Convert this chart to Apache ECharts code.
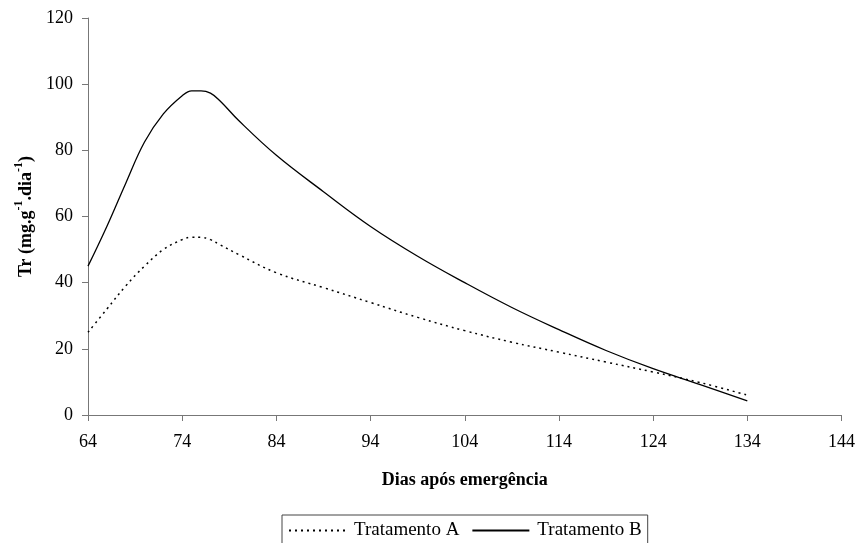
<!DOCTYPE html>
<html>
<head>
<meta charset="utf-8">
<script src="https://cdn.jsdelivr.net/npm/echarts@6/dist/echarts.min.js"></script>
<style>
  html, body { margin: 0; padding: 0; background: #fff; }
  #chart { width: 858px; height: 543px; }
</style>
</head>
<body>
<div id="chart"></div>
<script>
  // dias após emergência
  var dias = [64, 66, 68, 70, 72, 74, 75, 76, 77, 78, 80, 84, 89, 94, 99, 104, 109, 114, 119, 124, 129, 134];
  var tratamentoA = [25, 32, 39, 45, 50, 53, 53.7, 53.7, 53, 51.5, 48.5, 43, 38.5, 34, 29.5, 25.5, 22, 19, 16, 13, 9.8, 6];
  var tratamentoB = [45, 57, 70, 82.5, 91, 96.5, 98, 98, 97.3, 95, 89, 78.5, 67.5, 57, 48, 40, 32.5, 25.8, 19.5, 14, 9.2, 4.3];
  var serieNames = ['Tratamento A', 'Tratamento B'];

  function pares(xs, ys) {
    return xs.map(function (x, i) { return [x, ys[i]]; });
  }

  var font = 'Liberation Serif';
  var chart = echarts.init(document.getElementById('chart'));

  var option = {
    animation: false,
    grid: { left: 88, right: 15, top: 18, bottom: 128 },
    legend: {
      data: serieNames,
      top: 515,
      left: 282,
      borderColor: '#444',
      borderWidth: 1,
      borderRadius: 0,
      padding: [6, 6, 6, 6],
      itemGap: 12,
      itemWidth: 57,
      itemHeight: 10,
      itemStyle: { opacity: 0 },
      textStyle: { fontFamily: font, fontSize: 19, color: '#000', padding: [0, 0, 0, 3] }
    },
    xAxis: {
      type: 'value',
      min: 64,
      max: 144,
      interval: 10,
      name: 'Dias após emergência',
      nameLocation: 'middle',
      nameGap: 56,
      nameTextStyle: { fontFamily: font, fontSize: 18, fontWeight: 'bold', color: '#000' },
      axisLine: { lineStyle: { color: '#777', width: 1 } },
      axisTick: { length: 6, lineStyle: { color: '#777' } },
      axisLabel: { fontFamily: font, fontSize: 18, color: '#000', margin: 18 },
      splitLine: { show: false }
    },
    yAxis: {
      type: 'value',
      min: 0,
      max: 120,
      interval: 20,
      name: '{a|Tr (mg.g}{s|-1}{a|.dia}{s|-1}{a|)}',
      nameLocation: 'middle',
      nameRotate: 90,
      nameGap: 47,
      nameTextStyle: {
        rich: {
          a: { fontFamily: font, fontSize: 18, fontWeight: 'bold', color: '#000', verticalAlign: 'bottom', lineHeight: 22 },
          s: { fontFamily: font, fontSize: 12, fontWeight: 'bold', color: '#000', verticalAlign: 'top', lineHeight: 22, padding: [0, 0, 10, 0] }
        }
      },
      axisLine: { show: true, lineStyle: { color: '#777', width: 1 } },
      axisTick: { show: true, length: 6, lineStyle: { color: '#777' } },
      axisLabel: { fontFamily: font, fontSize: 18, color: '#000', margin: 15 },
      splitLine: { show: false }
    },
    series: [
      {
        name: serieNames[0],
        type: 'line',
        data: pares(dias, tratamentoA),
        smooth: 0.4,
        showSymbol: false,
        symbol: 'none',
        lineStyle: { color: '#000', width: 1.5, type: [2, 4] },
        itemStyle: { color: '#000' }
      },
      {
        name: serieNames[1],
        type: 'line',
        data: pares(dias, tratamentoB),
        smooth: 0.4,
        showSymbol: false,
        symbol: 'none',
        lineStyle: { color: '#000', width: 1.3, type: 'solid' },
        itemStyle: { color: '#000' }
      }
    ]
  };

  chart.setOption(option);
</script>
</body>
</html>
